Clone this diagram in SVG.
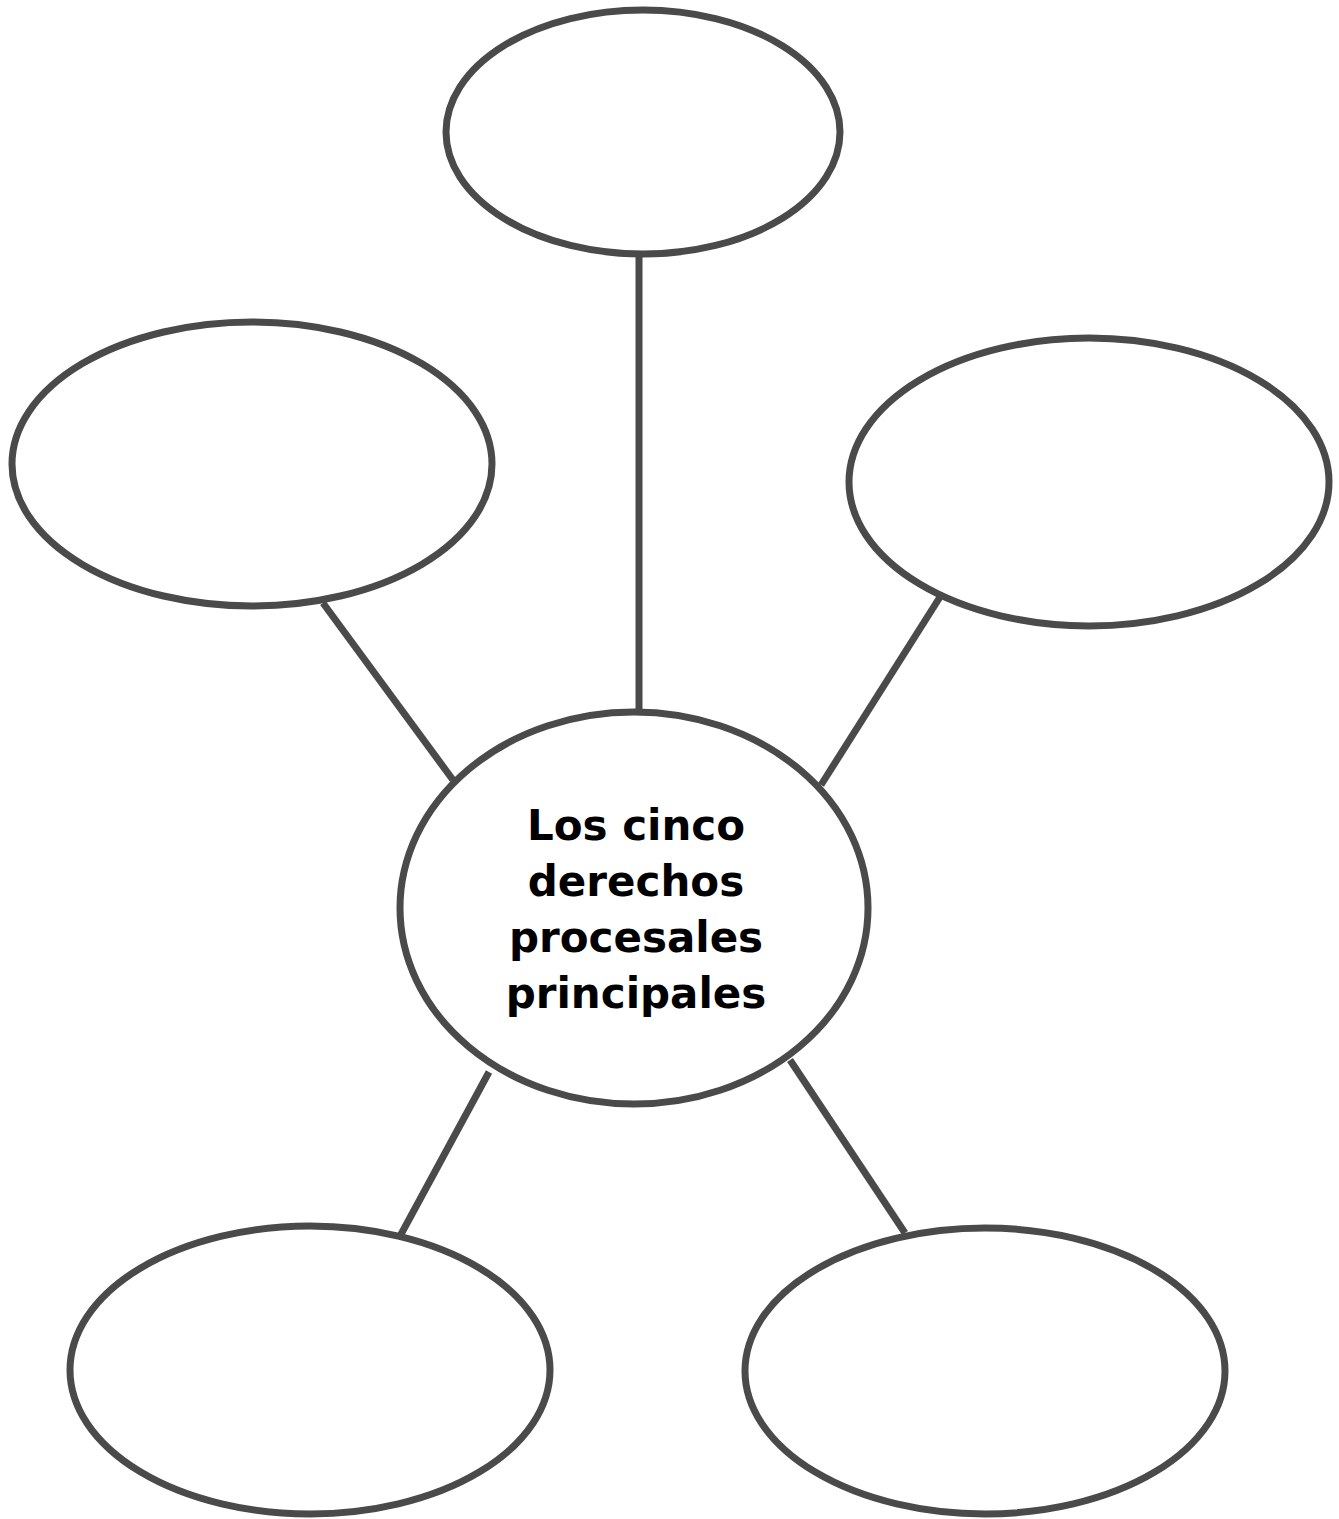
<svg xmlns="http://www.w3.org/2000/svg" width="1339" height="1519" viewBox="0 0 1339 1519">
<style>
.n{fill:#fff;stroke:#4a4a4a;stroke-width:7}
.c line{stroke:#4a4a4a;stroke-width:7}
.t{font-family:"DejaVu Sans",Verdana,sans-serif;font-weight:bold;font-size:42px;fill:#000;text-anchor:middle}
</style>
<rect width="1339" height="1519" fill="#fff"/>
<g class="c" id="connectors">
<line x1="639" y1="256" x2="639" y2="712"/>
<line x1="323" y1="603" x2="453" y2="780"/>
<line x1="940" y1="597" x2="821" y2="785"/>
<line x1="489" y1="1072" x2="399" y2="1238"/>
<line x1="790" y1="1060" x2="905" y2="1233"/>
</g>
<g id="top"><ellipse class="n" cx="643" cy="132" rx="197" ry="122"/></g>
<g id="left"><ellipse class="n" cx="252" cy="464" rx="240" ry="142"/></g>
<g id="right"><ellipse class="n" cx="1089" cy="482" rx="240" ry="144"/></g>
<g id="bottomleft"><ellipse class="n" cx="310" cy="1370" rx="240" ry="144"/></g>
<g id="bottomright"><ellipse class="n" cx="985" cy="1371" rx="240" ry="143"/></g>
<g id="center"><ellipse class="n" cx="634" cy="908" rx="234" ry="196"/>
<text class="t"><tspan x="636" y="840">Los cinco</tspan><tspan x="636" y="896">derechos</tspan><tspan x="636" y="952">procesales</tspan><tspan x="636" y="1008">principales</tspan></text>
</g>
</svg>
